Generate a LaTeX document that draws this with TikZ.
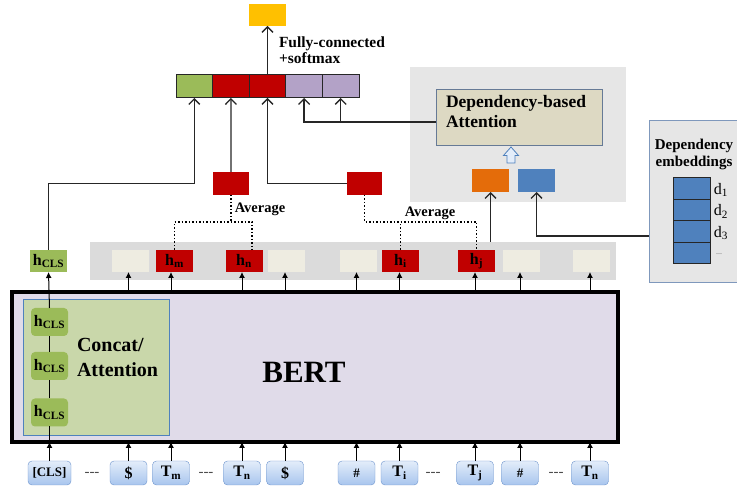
\documentclass[tikz,border=0pt]{standalone}
\usepackage{fontspec}
\setmainfont{Liberation Serif}
\usetikzlibrary{arrows.meta}
\definecolor{outyellow}{HTML}{FFC000}
\definecolor{clsgreen}{HTML}{9BBB59}
\definecolor{tokred}{HTML}{C00000}
\definecolor{deppurple}{HTML}{B3A2C7}
\definecolor{deporange}{HTML}{E46C0A}
\definecolor{depblue}{HTML}{4F81BD}
\definecolor{panelgray}{HTML}{E6E6E6}
\definecolor{stripgray}{HTML}{DBDBDB}
\definecolor{attfill}{HTML}{DDD9C3}
\definecolor{emptycell}{HTML}{EEECE1}
\definecolor{bertfill}{HTML}{E0DBE9}
\definecolor{concatfill}{HTML}{C9D7AA}
\definecolor{tokborder}{HTML}{6C93CC}
\definecolor{toktop}{HTML}{E3EDFA}
\definecolor{tokbottom}{HTML}{A8C5EE}
\definecolor{frameblue}{HTML}{7F98BC}
\begin{document}
\begin{tikzpicture}[x=1pt,y=-1pt,%
every node/.style={inner sep=0pt, outer sep=0pt, font=\bfseries},
vcell/.style={draw=black!85, line width=1pt, minimum width=36.6pt, minimum height=23pt},
hbox/.style={minimum width=37pt, minimum height=22pt, font=\bfseries\fontsize{16}{16}\selectfont},
token/.style={draw=tokborder, rounded corners=4pt, top color=toktop, bottom color=tokbottom,
minimum width=37pt, minimum height=24pt, font=\bfseries\fontsize{16}{16}\selectfont},
innerh/.style={fill=clsgreen, rounded corners=4pt, minimum width=37pt, minimum height=28pt,
font=\bfseries\fontsize{16}{16}\selectfont},
smallbox/.style={minimum width=37pt, minimum height=23pt},
embcell/.style={draw=black!85, line width=1pt, fill=depblue, minimum width=37pt, minimum height=21.5pt},
dlabel/.style={font=\fontsize{16}{16}\selectfont},
conn/.style={-{Straight Barb[length=5.5pt,width=11pt]}, line width=1.3pt, draw=black!85},
tokarrow/.style={-{Latex[length=6pt,width=6pt]}, line width=1pt},
avgline/.style={dotted, line width=1.5pt},
dashes/.style={font=\fontsize{15}{15}\selectfont, text=black!70}]
\useasboundingbox (0,0) rectangle (737,494);
\node (toppanel) at (518,134.5) [fill=panelgray, minimum width=216pt, minimum height=135pt] {};
\node (embpanel) at (694,202) [fill=panelgray, draw=frameblue, line width=1pt,
minimum width=90pt, minimum height=162pt] {};
\node (strip) at (353,261) [fill=stripgray, minimum width=526pt, minimum height=38pt] {};
\node (bert) at (315,367) [fill=bertfill, draw=black, line width=3.2pt,
minimum width=606pt, minimum height=150pt] {};
\node (concat) at (96,367) [fill=concatfill, draw=depblue, line width=0.7pt,
minimum width=146pt, minimum height=136pt] {};
\node (bertlbl) at (304,372) [font=\bfseries\fontsize{31}{31}\selectfont] {BERT};
\node (concatlbl) at (77,357) [anchor=west, align=left,
font=\bfseries\fontsize{20}{25}\selectfont] {Concat/\\Attention};
\node (hcA) at (49.5,322) [innerh] {h\textsubscript{CLS}};
\node (hcB) at (49.5,366) [innerh] {h\textsubscript{CLS}};
\node (hcC) at (49.5,412.5) [innerh] {h\textsubscript{CLS}};
% hidden states
\node (hcls) at (48.5,261) [hbox, fill=clsgreen] {h\textsubscript{CLS}};
\node (eA) at (130.5,261) [hbox, fill=emptycell] {};
\node (hm) at (174.5,261) [hbox, fill=tokred] {h\textsubscript{m}};
\node (hn) at (244,261) [hbox, fill=tokred] {h\textsubscript{n}};
\node (eB) at (286.5,261) [hbox, fill=emptycell] {};
\node (eC) at (358.5,261) [hbox, fill=emptycell] {};
\node (hi) at (400.5,261) [hbox, fill=tokred] {h\textsubscript{i}};
\node (hj) at (476.5,261) [hbox, fill=tokred] {h\textsubscript{j}};
\node (eD) at (521.5,261) [hbox, fill=emptycell] {};
\node (eE) at (591.5,261) [hbox, fill=emptycell] {};
% input tokens
\node (cls) at (49.5,473) [token, minimum width=43pt, font=\bfseries\fontsize{13}{13}\selectfont] {[CLS]};
\node (dashA) at (92,474) [dashes] {-{}-{}-};
\node (dolA) at (128.5,473) [token] {\$};
\node (tm) at (171,473) [token] {T\textsubscript{m}};
\node (dashB) at (206,474) [dashes] {-{}-{}-};
\node (tn) at (242,473) [token] {T\textsubscript{n}};
\node (dolB) at (285,473) [token] {\$};
\node (hashA) at (356.5,473) [token, font=\bfseries\fontsize{13}{13}\selectfont] {\#};
\node (ti) at (399.5,473) [token] {T\textsubscript{i}};
\node (dashC) at (433,474) [dashes] {-{}-{}-};
\node (tj) at (475,473) [token] {T\textsubscript{j}};
\node (hashB) at (520,473) [token, font=\bfseries\fontsize{13}{13}\selectfont] {\#};
\node (dashD) at (556,474) [dashes] {-{}-{}-};
\node (tnB) at (590,473) [token] {T\textsubscript{n}};
% output vector
\node (vgreen) at (194.3,86.5) [vcell, fill=clsgreen] {};
\node (vredA) at (230.9,86.5) [vcell, fill=tokred] {};
\node (vredB) at (267.5,86.5) [vcell, fill=tokred] {};
\node (vpurA) at (304.1,86.5) [vcell, fill=deppurple] {};
\node (vpurB) at (340.7,86.5) [vcell, fill=deppurple] {};
\node (yellow) at (267.5,15) [fill=outyellow, minimum width=37pt, minimum height=22pt] {};
\node (fclbl) at (279,50) [anchor=west, align=left,
font=\bfseries\fontsize{15.5}{16}\selectfont] {Fully-connected\\+softmax};
\node (avgA) at (231,183.5) [smallbox, fill=tokred, minimum width=36pt] {};
\node (avgB) at (364.5,183.5) [smallbox, fill=tokred, minimum width=35pt] {};
\node (avglblA) at (260,209) [font=\bfseries\fontsize{14.5}{15}\selectfont] {Average};
\node (avglblB) at (430,213) [font=\bfseries\fontsize{14.5}{15}\selectfont] {Average};
% dependency part
\node (depatt) at (519,117) [fill=attfill, draw=frameblue!80!black, line width=0.9pt,
minimum width=166pt, minimum height=56pt] {};
\node (depattlbl) at (446,112) [anchor=west, align=left,
font=\bfseries\fontsize{17.5}{20}\selectfont] {Dependency-based\\Attention};
\node (orange) at (490.5,180.5) [smallbox, fill=deporange] {};
\node (blue) at (536.5,180.5) [smallbox, fill=depblue] {};
\node (embtitle) at (694,154.5) [align=center,
font=\bfseries\fontsize{15}{17.5}\selectfont] {Dependency\\embeddings};
\node (embA) at (691.5,188.75) [embcell] {};
\node (embB) at (691.5,210.25) [embcell] {};
\node (embC) at (691.5,231.75) [embcell] {};
\node (embD) at (691.5,253.25) [embcell] {};
\node (dA) at (721,190) [dlabel] {d\textsubscript{1}};
\node (dB) at (721,211.5) [dlabel] {d\textsubscript{2}};
\node (dC) at (721,233) [dlabel] {d\textsubscript{3}};
\node (dD) at (719,254) [font=\fontsize{8}{8}\selectfont, text=black!60] {...};
\draw[fill=toktop, draw=depblue, line width=0.8pt] (507,163) -- (507,155.5) -- (503.5,155.5)
-- (511,147) -- (518.5,155.5) -- (515,155.5) -- (515,163) -- cycle;
\draw[conn] (vredB.north) -- (yellow.south);
\draw[conn] (hcls.north) -- (hcls.north |- avgA.west) -| (vgreen.south);
\draw[conn] (avgA.north) -- (vredA.south);
\draw[conn] (avgB.west) -| (vredB.south);
\draw[conn] ([yshift=-5pt]depatt.west) -| (vpurA.south);
\draw[conn] ([yshift=-5pt]depatt.west) -| (vpurB.south);
\draw[conn] (orange.south |- strip.north) -- (orange.south);
\draw[conn] ([yshift=-34pt]embpanel.west) -| (blue.south);
\draw[avgline] (avgA.south) -- ++(0,27);
\draw[avgline] (hm.north) -- ([yshift=28pt]hm.north) -| ([xshift=8pt]hn.north);
\draw[avgline] (avgB.south) |- ([yshift=28pt]hi.north);
\draw[avgline] (hi.north) -- ([yshift=28pt]hi.north) -| (hj.north);
\draw[tokarrow] (cls.north) -- (cls.north |- bert.south);
\draw[line width=1pt] (cls.north |- bert.south) -- (hcC.south);
\draw[line width=1pt] (hcC.north) -- (hcB.south);
\draw[line width=1pt] (hcB.north) -- (hcA.south);
\draw[tokarrow] (hcA.north) -- (hcls.south);
\draw[tokarrow] (dolA.north) -- (dolA.north |- bert.south);
\draw[tokarrow] (tm.north) -- (tm.north |- bert.south);
\draw[tokarrow] (tn.north) -- (tn.north |- bert.south);
\draw[tokarrow] (dolB.north) -- (dolB.north |- bert.south);
\draw[tokarrow] (hashA.north) -- (hashA.north |- bert.south);
\draw[tokarrow] (ti.north) -- (ti.north |- bert.south);
\draw[tokarrow] (tj.north) -- (tj.north |- bert.south);
\draw[tokarrow] (hashB.north) -- (hashB.north |- bert.south);
\draw[tokarrow] (tnB.north) -- (tnB.north |- bert.south);
\draw[tokarrow] (dolA.north |- bert.north) -- (dolA.north |- eA.south);
\draw[tokarrow] (tm.north |- bert.north) -- (tm.north |- hm.south);
\draw[tokarrow] (tn.north |- bert.north) -- (tn.north |- hn.south);
\draw[tokarrow] (dolB.north |- bert.north) -- (dolB.north |- eB.south);
\draw[tokarrow] (hashA.north |- bert.north) -- (hashA.north |- eC.south);
\draw[tokarrow] (ti.north |- bert.north) -- (ti.north |- hi.south);
\draw[tokarrow] (tj.north |- bert.north) -- (tj.north |- hj.south);
\draw[tokarrow] (hashB.north |- bert.north) -- (hashB.north |- eD.south);
\draw[tokarrow] (tnB.north |- bert.north) -- (tnB.north |- eE.south);
\end{tikzpicture}
\end{document}
